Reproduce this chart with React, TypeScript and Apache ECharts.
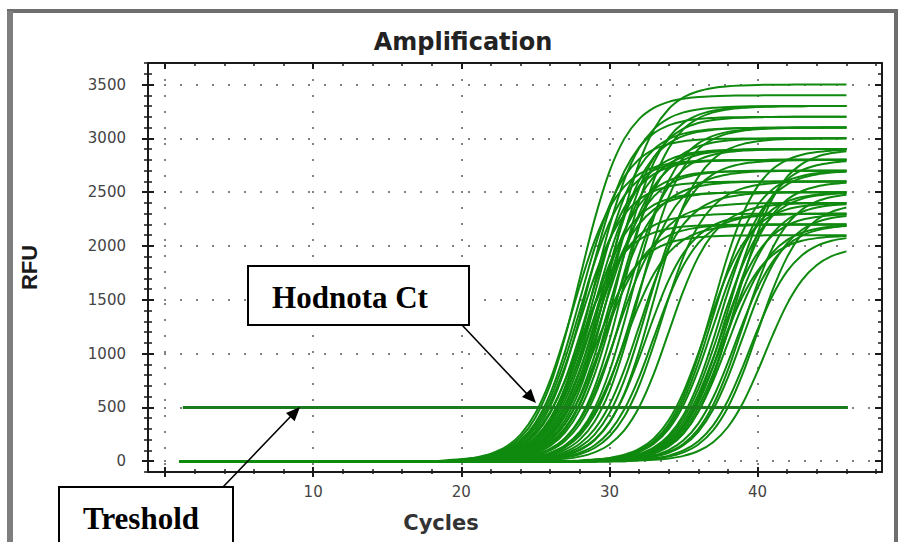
import React, { useEffect, useRef } from 'react';
import * as echarts from 'echarts';

// ---------- axis ranges & ticks ----------
const cycleMin = -1.15;
const cycleMax = 48.4;
const rfuMin = -100;
const rfuMax = 3700;
const xMajorTicks = [0, 10, 20, 30, 40];
const xLabelValues = [10, 20, 30, 40];
const xMinorTicks = [2, 4, 6, 8, 12, 14, 16, 18, 22, 24, 26, 28, 32, 34, 36, 38, 42, 44, 46, 48];
const yMajorTicks = [0, 500, 1000, 1500, 2000, 2500, 3000, 3500];
const yMinorTicks = [-100, 100, 200, 300, 400, 600, 700, 800, 900, 1100, 1200, 1300, 1400, 1600, 1700, 1800, 1900,
  2100, 2200, 2300, 2400, 2600, 2700, 2800, 2900, 3100, 3200, 3300, 3400, 3600, 3700];

// ---------- data ----------
const firstCycle = 1;
const baselineRFU = 0;
const thresholdRFU = 500;
const thresholdFrom = 1.2;
const thresholdTo = 46.1;

// early amplifying samples: first non-baseline cycle, then RFU per cycle up to cycle 46
const earlyStart = [20, 20, 20, 20, 20, 20, 21, 21, 21, 21, 21, 21, 22, 22, 22, 22, 22, 23, 23, 23, 23, 24, 24, 24, 25, 25, 25, 26, 21, 19,
  20, 20, 21, 21, 20, 22, 22, 21, 23, 24];
const earlyValues = [
  [16, 32, 61, 117, 221, 405, 709, 1153, 1700, 2247, 2691, 2995, 3179, 3283, 3339, 3368, 3384, 3392, 3396, 3398, 3399, 3400, 3400, 3400, 3400, 3400, 3400],
  [14, 28, 54, 103, 195, 358, 626, 1018, 1500, 1982, 2374, 2642, 2805, 2897, 2946, 2972, 2986, 2993, 2996, 2998, 2999, 3000, 3000, 3000, 3000, 3000, 3000],
  [12, 24, 47, 89, 169, 310, 542, 882, 1300, 1718, 2058, 2290, 2431, 2511, 2553, 2576, 2588, 2594, 2597, 2598, 2599, 2600, 2600, 2600, 2600, 2600, 2600],
  [11, 21, 42, 80, 152, 283, 508, 860, 1336, 1864, 2340, 2692, 2917, 3048, 3120, 3159, 3179, 3189, 3195, 3197, 3198, 3199, 3200, 3200, 3200, 3200, 3200],
  [10, 19, 36, 70, 133, 248, 445, 753, 1169, 1631, 2047, 2355, 2552, 2667, 2730, 2764, 2781, 2790, 2795, 2797, 2798, 2799, 2800, 2800, 2800, 2800, 2800],
  [8, 15, 30, 57, 109, 203, 365, 618, 960, 1340, 1682, 1935, 2097, 2191, 2243, 2270, 2285, 2292, 2296, 2298, 2299, 2299, 2300, 2300, 2300, 2300, 2300],
  [16, 31, 59, 114, 214, 393, 688, 1119, 1650, 2181, 2612, 2907, 3086, 3186, 3241, 3269, 3284, 3292, 3296, 3298, 3299, 3300, 3300, 3300, 3300, 3300],
  [14, 27, 52, 100, 188, 346, 605, 984, 1450, 1916, 2295, 2554, 2712, 2800, 2848, 2873, 2886, 2893, 2897, 2898, 2899, 2900, 2900, 2900, 2900, 2900],
  [12, 23, 45, 86, 162, 298, 522, 848, 1250, 1652, 1979, 2202, 2338, 2414, 2455, 2477, 2488, 2494, 2497, 2498, 2499, 2500, 2500, 2500, 2500, 2500],
  [11, 21, 40, 77, 147, 274, 493, 834, 1294, 1806, 2266, 2607, 2826, 2953, 3023, 3060, 3079, 3089, 3095, 3097, 3098, 3099, 3100, 3100, 3100, 3100],
  [9, 18, 35, 67, 128, 239, 429, 726, 1127, 1573, 1974, 2271, 2461, 2572, 2633, 2665, 2682, 2691, 2695, 2697, 2698, 2699, 2700, 2700, 2700, 2700],
  [8, 15, 29, 55, 104, 194, 350, 592, 918, 1282, 1608, 1850, 2006, 2096, 2145, 2172, 2185, 2193, 2196, 2198, 2199, 2199, 2200, 2200, 2200, 2200],
  [17, 33, 63, 120, 227, 417, 730, 1187, 1750, 2313, 2770, 3083, 3273, 3380, 3437, 3467, 3483, 3491, 3496, 3498, 3499, 3500, 3500, 3500, 3500],
  [15, 30, 58, 110, 208, 381, 668, 1085, 1600, 2115, 2532, 2819, 2992, 3090, 3142, 3170, 3185, 3192, 3196, 3198, 3199, 3200, 3200, 3200, 3200],
  [12, 24, 47, 89, 169, 310, 542, 882, 1300, 1718, 2058, 2290, 2431, 2511, 2553, 2576, 2588, 2594, 2597, 2598, 2599, 2600, 2600, 2600, 2600],
  [11, 20, 39, 75, 142, 265, 477, 807, 1252, 1748, 2193, 2523, 2735, 2858, 2925, 2961, 2980, 2990, 2995, 2997, 2998, 2999, 3000, 3000, 3000],
  [8, 16, 31, 60, 114, 212, 381, 645, 1002, 1398, 1755, 2019, 2188, 2286, 2340, 2369, 2384, 2392, 2396, 2398, 2399, 2399, 2400, 2400, 2400],
  [14, 27, 52, 100, 188, 346, 605, 984, 1450, 1916, 2295, 2554, 2712, 2800, 2848, 2873, 2886, 2893, 2897, 2898, 2899, 2900, 2900, 2900],
  [16, 31, 59, 114, 214, 393, 688, 1119, 1650, 2181, 2612, 2907, 3086, 3186, 3241, 3269, 3284, 3292, 3296, 3298, 3299, 3300, 3300, 3300],
  [11, 20, 40, 76, 143, 262, 459, 746, 1100, 1454, 1741, 1938, 2057, 2124, 2160, 2180, 2189, 2195, 2197, 2198, 2199, 2200, 2200, 2200],
  [9, 18, 35, 67, 128, 239, 429, 726, 1127, 1573, 1974, 2271, 2461, 2572, 2633, 2665, 2682, 2691, 2695, 2697, 2698, 2699, 2700, 2700],
  [15, 29, 56, 107, 201, 370, 647, 1052, 1550, 2048, 2453, 2730, 2899, 2993, 3044, 3071, 3085, 3092, 3096, 3098, 3099, 3100, 3100],
  [12, 23, 45, 86, 162, 298, 522, 848, 1250, 1652, 1979, 2202, 2338, 2414, 2455, 2477, 2488, 2494, 2497, 2498, 2499, 2500, 2500],
  [10, 19, 36, 70, 133, 248, 445, 753, 1169, 1631, 2047, 2355, 2552, 2667, 2730, 2764, 2781, 2790, 2795, 2797, 2798, 2799, 2800],
  [11, 21, 41, 79, 149, 274, 480, 780, 1150, 1520, 1820, 2026, 2151, 2221, 2259, 2279, 2289, 2294, 2297, 2298, 2299, 2300],
  [14, 28, 54, 103, 195, 358, 626, 1018, 1500, 1982, 2374, 2642, 2805, 2897, 2946, 2972, 2986, 2993, 2996, 2998, 2999, 3000],
  [9, 17, 34, 65, 123, 230, 413, 699, 1085, 1515, 1901, 2187, 2370, 2477, 2535, 2566, 2583, 2591, 2596, 2598, 2599, 2600],
  [12, 22, 43, 83, 156, 286, 501, 814, 1200, 1586, 1899, 2114, 2244, 2317, 2357, 2378, 2388, 2394, 2397, 2398, 2399],
  [10, 20, 38, 72, 136, 250, 438, 712, 1050, 1388, 1662, 1850, 1964, 2028, 2062, 2080, 2090, 2095, 2097, 2098, 2099, 2100, 2100, 2100, 2100, 2100],
  [10, 19, 36, 70, 133, 248, 445, 753, 1169, 1631, 2047, 2355, 2552, 2667, 2730, 2764, 2781, 2790, 2795, 2797, 2798, 2799, 2800, 2800, 2800, 2800, 2800, 2800],
  [11, 20, 40, 76, 143, 262, 459, 746, 1100, 1454, 1741, 1938, 2057, 2124, 2160, 2180, 2189, 2195, 2197, 2198, 2199, 2200, 2200, 2200, 2200, 2200, 2200],
  [9, 17, 33, 62, 119, 221, 397, 672, 1044, 1457, 1828, 2103, 2279, 2382, 2438, 2468, 2483, 2492, 2496, 2498, 2499, 2500, 2500, 2500, 2500, 2500, 2500],
  [15, 29, 56, 107, 201, 370, 647, 1052, 1550, 2048, 2453, 2730, 2899, 2993, 3044, 3071, 3085, 3092, 3096, 3098, 3099, 3100, 3100, 3100, 3100, 3100],
  [10, 19, 38, 72, 137, 256, 461, 780, 1210, 1690, 2120, 2439, 2644, 2763, 2828, 2863, 2881, 2890, 2895, 2897, 2898, 2899, 2900, 2900, 2900, 2900],
  [13, 26, 50, 96, 182, 334, 584, 950, 1400, 1850, 2216, 2466, 2618, 2704, 2750, 2774, 2787, 2793, 2797, 2798, 2799, 2800, 2800, 2800, 2800, 2800, 2800],
  [14, 27, 52, 100, 188, 346, 605, 984, 1450, 1916, 2295, 2554, 2712, 2800, 2848, 2873, 2886, 2893, 2897, 2898, 2899, 2900, 2900, 2900, 2900],
  [12, 22, 43, 82, 156, 292, 524, 887, 1377, 1923, 2413, 2776, 3008, 3144, 3218, 3257, 3278, 3289, 3294, 3296, 3298, 3299, 3300, 3300, 3300],
  [13, 25, 49, 93, 175, 322, 563, 916, 1350, 1784, 2137, 2378, 2525, 2607, 2651, 2675, 2687, 2693, 2697, 2698, 2699, 2700, 2700, 2700, 2700, 2700],
  [11, 21, 40, 77, 147, 274, 493, 834, 1294, 1806, 2266, 2607, 2826, 2953, 3023, 3060, 3079, 3089, 3095, 3097, 3098, 3099, 3100, 3100],
  [8, 15, 30, 57, 109, 203, 365, 618, 960, 1340, 1682, 1935, 2097, 2191, 2243, 2270, 2285, 2292, 2296, 2298, 2299, 2300, 2300],
];

// late amplifying samples
const lateStart = [29, 29, 29, 29, 29, 30, 30, 30, 30, 31, 31, 31, 32, 32, 29, 29, 30, 30, 28];
const lateValues = [
  [14, 27, 52, 100, 188, 346, 605, 984, 1450, 1916, 2295, 2554, 2712, 2800, 2848, 2873, 2886, 2893],
  [12, 23, 45, 86, 162, 298, 522, 848, 1250, 1652, 1979, 2202, 2338, 2414, 2455, 2477, 2488, 2494],
  [9, 18, 35, 67, 128, 239, 429, 726, 1127, 1573, 1974, 2271, 2461, 2572, 2633, 2665, 2682, 2691],
  [8, 15, 30, 57, 109, 203, 365, 618, 960, 1340, 1682, 1935, 2097, 2191, 2243, 2270, 2285, 2292],
  [7, 14, 27, 52, 100, 186, 334, 565, 877, 1223, 1535, 1766, 1914, 2000, 2048, 2073, 2086, 2093],
  [13, 26, 50, 96, 182, 334, 584, 950, 1400, 1850, 2216, 2466, 2618, 2704, 2750, 2774, 2787],
  [12, 22, 43, 83, 156, 286, 501, 814, 1200, 1586, 1899, 2114, 2244, 2317, 2357, 2378, 2388],
  [12, 24, 47, 89, 169, 310, 542, 882, 1300, 1718, 2058, 2290, 2431, 2511, 2553, 2576, 2588],
  [8, 15, 29, 55, 104, 194, 350, 592, 918, 1282, 1608, 1850, 2006, 2096, 2145, 2172, 2185],
  [12, 23, 45, 86, 162, 298, 522, 848, 1250, 1652, 1979, 2202, 2338, 2414, 2455, 2477],
  [11, 21, 41, 79, 149, 274, 480, 780, 1150, 1520, 1820, 2026, 2151, 2221, 2259, 2279],
  [7, 14, 27, 52, 100, 186, 334, 565, 877, 1223, 1535, 1766, 1914, 2000, 2048, 2073],
  [12, 22, 43, 83, 156, 286, 501, 814, 1200, 1586, 1899, 2114, 2244, 2317, 2357],
  [7, 13, 26, 50, 95, 177, 318, 538, 835, 1165, 1462, 1682, 1823, 1905, 1950],
  [13, 25, 49, 93, 175, 322, 563, 916, 1350, 1784, 2137, 2378, 2525, 2607, 2651, 2675, 2687, 2693],
  [9, 17, 33, 62, 119, 221, 397, 672, 1044, 1457, 1828, 2103, 2279, 2382, 2438, 2468, 2483, 2492],
  [11, 20, 40, 76, 143, 262, 459, 746, 1100, 1454, 1741, 1938, 2057, 2124, 2160, 2180, 2189],
  [10, 19, 38, 72, 137, 256, 461, 780, 1210, 1690, 2120, 2439, 2644, 2763, 2828, 2863, 2881],
  [8, 16, 31, 60, 114, 212, 381, 645, 1002, 1398, 1755, 2019, 2188, 2286, 2340, 2369, 2384, 2392, 2396],
];

// ---------- styles ----------
const curveColor = '#0f8a0f';
const thresholdColor = '#1b7a1b';
const axisColor = '#1a1a1a';
const gridColor = '#5a5a5a';

function buildCurve(start: number, values: number[]) {
  const pts: [number, number][] = [];
  for (let c = firstCycle; c < start; c++) pts.push([c, baselineRFU]);
  values.forEach((v, i) => pts.push([start + i, v]));
  return pts;
}

function tickOnlyX(position: string, values: number[], inside: boolean, length: number, width: number) {
  return {
    type: 'value', position, min: cycleMin, max: cycleMax,
    axisLine: { show: false, onZero: false },
    axisTick: { show: true, inside, length, customValues: values, lineStyle: { color: axisColor, width } },
    axisLabel: { show: false },
    splitLine: { show: false },
  };
}
function tickOnlyY(position: string, values: number[], inside: boolean, length: number, width: number) {
  return {
    type: 'value', position, min: rfuMin, max: rfuMax,
    axisLine: { show: false, onZero: false },
    axisTick: { show: true, inside, length, customValues: values, lineStyle: { color: axisColor, width } },
    axisLabel: { show: false },
    splitLine: { show: false },
  };
}

export default function App() {
  const ref = useRef<HTMLDivElement>(null);
  useEffect(() => {
    if (!ref.current) return;
    const chart = echarts.init(ref.current, undefined, { renderer: 'svg' });

    const series: any[] = [];
    const addCurve = (start: number, vals: number[]) => {
      series.push({
        type: 'line', data: buildCurve(start, vals), showSymbol: false, symbol: 'none',
        smooth: 0.35, silent: true, z: 2,
        lineStyle: { color: curveColor, width: 2 },
      });
    };
    earlyValues.forEach((vals, i) => addCurve(earlyStart[i], vals));
    lateValues.forEach((vals, i) => addCurve(lateStart[i], vals));
    series.push({
      type: 'line', data: [[thresholdFrom, thresholdRFU], [thresholdTo, thresholdRFU]],
      showSymbol: false, symbol: 'none', silent: true, z: 3,
      lineStyle: { color: thresholdColor, width: 3 },
    });

    const labelFont = { color: '#444', fontSize: 15, fontFamily: 'DejaVu Sans' };

    const option: any = {
      animation: false,
      backgroundColor: '#ffffff',
      grid: { left: 148, top: 63, right: 20, bottom: 70, containLabel: false },
      xAxis: [
        {
          type: 'value', position: 'bottom', min: cycleMin, max: cycleMax,
          axisLine: { show: true, onZero: false, lineStyle: { color: axisColor, width: 2 } },
          axisTick: { show: true, inside: false, length: 5, customValues: xMajorTicks, lineStyle: { color: axisColor, width: 2 } },
          axisLabel: { show: true, customValues: xLabelValues, margin: 12, formatter: (v: number) => String(v), ...labelFont },
          splitLine: { show: true, lineStyle: { type: [2, 14], color: gridColor, width: 1.5 } },
        },
        tickOnlyX('bottom', xMajorTicks, true, 5, 2),
        tickOnlyX('bottom', xMinorTicks, true, 3, 1.5),
        tickOnlyX('bottom', xMinorTicks, false, 2, 1.5),
        {
          type: 'value', position: 'top', min: cycleMin, max: cycleMax,
          axisLine: { show: true, onZero: false, lineStyle: { color: axisColor, width: 2 } },
          axisTick: { show: true, inside: true, length: 6, customValues: xMajorTicks, lineStyle: { color: axisColor, width: 2 } },
          axisLabel: { show: false },
          splitLine: { show: false },
        },
        tickOnlyX('top', xMinorTicks, true, 3, 1.5),
      ],
      yAxis: [
        {
          type: 'value', position: 'left', min: rfuMin, max: rfuMax,
          name: 'RFU', nameLocation: 'middle', nameGap: 108, nameRotate: 90,
          nameTextStyle: { color: '#1a1a1a', fontSize: 22, fontWeight: 'bold', fontFamily: 'Liberation Sans, Arial, sans-serif' },
          axisLine: { show: true, onZero: false, lineStyle: { color: axisColor, width: 2 } },
          axisTick: { show: true, inside: false, length: 6, customValues: yMajorTicks, lineStyle: { color: axisColor, width: 2 } },
          axisLabel: { show: true, customValues: yMajorTicks, margin: 22, formatter: (v: number) => String(v), ...labelFont },
          splitLine: { show: true, lineStyle: { type: [2, 14], color: gridColor, width: 1.5 } },
        },
        tickOnlyY('left', yMajorTicks, true, 6, 2),
        tickOnlyY('left', yMinorTicks, true, 4, 1.5),
        tickOnlyY('left', yMinorTicks, false, 4, 1.5),
        {
          type: 'value', position: 'right', min: rfuMin, max: rfuMax,
          axisLine: { show: true, onZero: false, lineStyle: { color: axisColor, width: 2 } },
          axisTick: { show: true, inside: true, length: 7, customValues: yMajorTicks, lineStyle: { color: axisColor, width: 2 } },
          axisLabel: { show: false },
          splitLine: { show: false },
        },
        tickOnlyY('right', yMinorTicks, true, 4, 1.5),
      ],
      series,
      graphic: [
        { type: 'rect', z: 100, shape: { x: 9, y: 11, width: 887, height: 545 }, style: { fill: 'none', stroke: '#6e6e6e', lineWidth: 4 } },
        { type: 'rect', z: 100, shape: { x: 7, y: 11, width: 6, height: 545 }, style: { fill: '#7e7e7e' } },
        { type: 'text', z: 100, x: 463, y: 42, style: { text: 'Amplification', align: 'center', verticalAlign: 'middle', font: 'bold 24px "DejaVu Sans", sans-serif', fill: '#222' } },
        { type: 'text', z: 100, x: 441, y: 523, style: { text: 'Cycles', align: 'center', verticalAlign: 'middle', font: 'bold 21px "DejaVu Sans", sans-serif', fill: '#333' } },
        // Hodnota Ct callout
        { type: 'rect', z: 100, shape: { x: 248, y: 266, width: 221, height: 59 }, style: { fill: '#fff', stroke: '#000', lineWidth: 2 } },
        { type: 'text', z: 101, x: 350, y: 297, style: { text: 'Hodnota Ct', align: 'center', verticalAlign: 'middle', font: 'bold 31px "Liberation Serif", "Times New Roman", serif', fill: '#000' } },
        { type: 'line', z: 100, shape: { x1: 462, y1: 325, x2: 528, y2: 395 }, style: { stroke: '#000', lineWidth: 1.6 } },
        { type: 'polygon', z: 100, shape: { points: [[536, 403], [522, 397], [531, 388.7]] }, style: { fill: '#000' } },
        // Treshold callout
        { type: 'rect', z: 100, shape: { x: 59, y: 487, width: 174, height: 70 }, style: { fill: '#fff', stroke: '#000', lineWidth: 2 } },
        { type: 'text', z: 101, x: 141, y: 518, style: { text: 'Treshold', align: 'center', verticalAlign: 'middle', font: 'bold 31px "Liberation Serif", "Times New Roman", serif', fill: '#000' } },
        { type: 'line', z: 100, shape: { x1: 223, y1: 487, x2: 292, y2: 415 }, style: { stroke: '#000', lineWidth: 1.6 } },
        { type: 'polygon', z: 100, shape: { points: [[300, 407], [294.6, 421.3], [286, 412.9]] }, style: { fill: '#000' } },
      ],
    };
    chart.setOption(option);
    return () => chart.dispose();
  }, []);
  return <div ref={ref} style={{ position: 'fixed', left: 0, top: 0, width: 902, height: 542, background: '#fff' }} />;
}
